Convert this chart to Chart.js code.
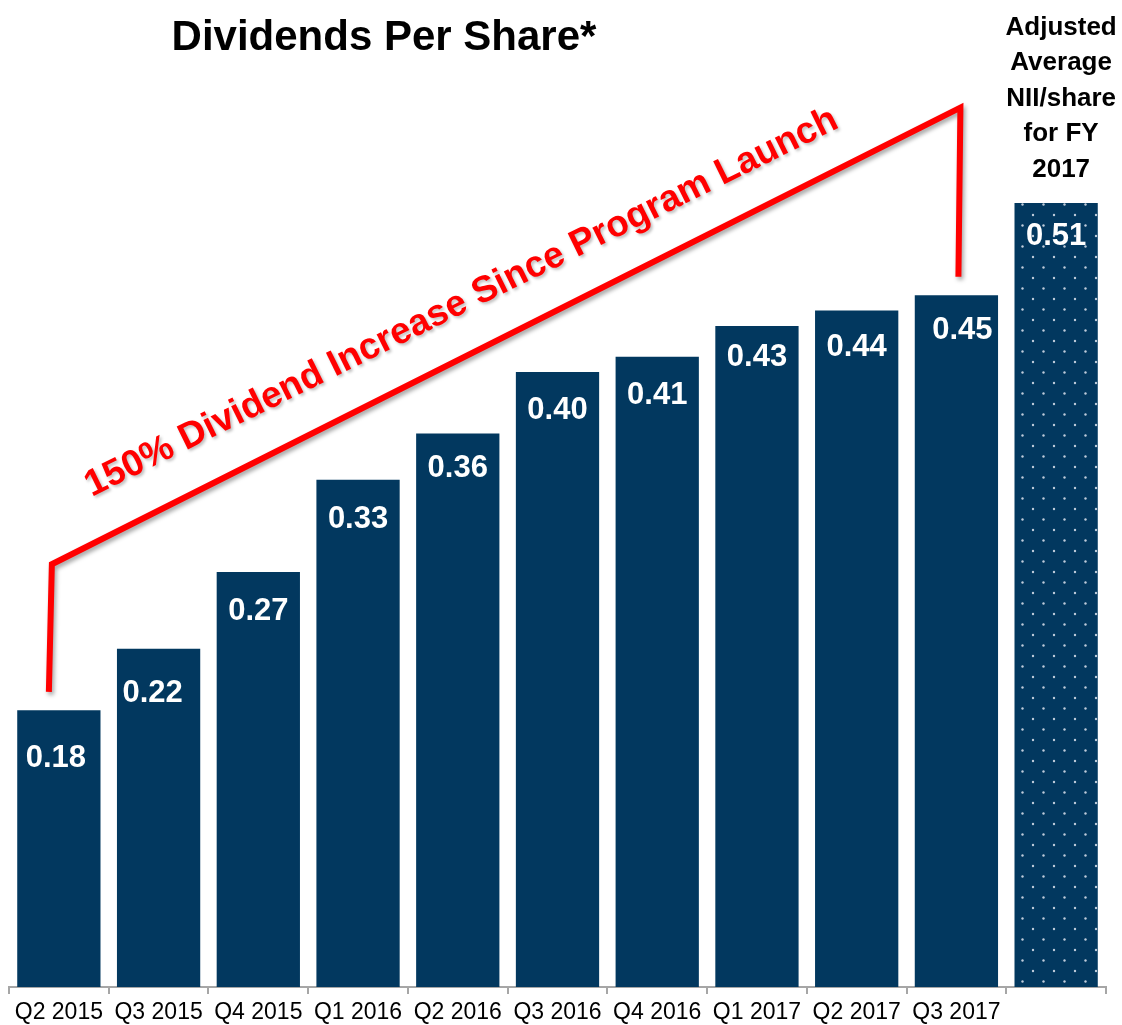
<!DOCTYPE html>
<html>
<head>
<meta charset="utf-8">
<script src="https://cdn.jsdelivr.net/npm/chart.js@4"></script>
<style>
  html, body { margin: 0; padding: 0; background: #fff; }
  #wrap { width: 1122px; height: 1025px; position: relative; }
</style>
</head>
<body>
<div id="wrap"><canvas id="dpsChart"></canvas></div>
<script>
// data
const quarters = ['Q2 2015', 'Q3 2015', 'Q4 2015', 'Q1 2016', 'Q2 2016', 'Q3 2016', 'Q4 2016', 'Q1 2017', 'Q2 2017', 'Q3 2017', ''];
const dividends = [0.18, 0.22, 0.27, 0.33, 0.36, 0.40, 0.41, 0.43, 0.44, 0.45, 0.51];
const chartTitle = 'Dividends Per Share*';
const calloutText = '150% Dividend Increase Since Program Launch';
const lastBarCaption = ['Adjusted', 'Average', 'NII/share', 'for FY', '2017'];

const FONT = '"Liberation Sans", Arial, sans-serif';
const NAVY = '#02385f';

// dotted fill for the last bar
function makeDots() {
    const c = document.createElement('canvas');
    c.width = 21;
    c.height = 21;
    const g = c.getContext('2d');
    g.fillStyle = NAVY;
    g.fillRect(0, 0, 21, 21);
    g.fillStyle = 'rgba(225, 230, 240, 0.85)';
    [[4, 5], [14.5, 15.5]].forEach(p => {
        g.beginPath();
        g.arc(p[0], p[1], 1.2, 0, Math.PI * 2);
        g.fill();
    });
    return g.createPattern(c, 'repeat');
}

const barColors = dividends.map((v, i) => i === dividends.length - 1 ? makeDots() : NAVY);

// labels, title, bracket and callout
const annotate = {
    id: 'annotate',
    afterDatasetsDraw(chart, args, opts) {
        const ctx = chart.ctx;
        const x = chart.scales.x;
        const y = chart.scales.y;
        const bars = chart.getDatasetMeta(0).data;

        // value labels inside the bars
        ctx.save();
        ctx.fillStyle = '#fff';
        ctx.font = 'bold 31px ' + FONT;
        ctx.textAlign = 'center';
        ctx.textBaseline = 'middle';
        bars.forEach((bar, i) => {
            ctx.fillText(dividends[i].toFixed(2), bar.x + opts.dx[i], bar.y + opts.dy[i]);
        });
        ctx.restore();

        // caption above the last bar
        const last = bars[bars.length - 1];
        ctx.save();
        ctx.fillStyle = '#000';
        ctx.font = 'bold 26px ' + FONT;
        ctx.textAlign = 'center';
        ctx.textBaseline = 'alphabetic';
        lastBarCaption.forEach((line, k) => {
            const base = last.y - 26 - (lastBarCaption.length - 1 - k) * 35.5;
            ctx.fillText(line, last.x + 5, base);
        });
        ctx.restore();

        // title
        ctx.save();
        ctx.fillStyle = '#000';
        ctx.font = 'bold 42px ' + FONT;
        ctx.textAlign = 'center';
        ctx.textBaseline = 'alphabetic';
        ctx.fillText(chartTitle, 384, 50);
        ctx.restore();

        // red bracket from first to last quarter
        const gap = 0.012;
        const xl = x.getPixelForValue(0) - 7;
        const xr = x.getPixelForValue(9) + 3;
        ctx.save();
        ctx.strokeStyle = '#ff0000';
        ctx.lineWidth = 6;
        ctx.lineJoin = 'miter';
        ctx.shadowColor = 'rgba(0, 0, 0, 0.35)';
        ctx.shadowBlur = 4;
        ctx.shadowOffsetX = 2;
        ctx.shadowOffsetY = 3;
        ctx.beginPath();
        ctx.moveTo(xl - 3, y.getPixelForValue(dividends[0] + gap));
        ctx.lineTo(xl, y.getPixelForValue(0.275));
        ctx.lineTo(xr + 1, y.getPixelForValue(0.572));
        ctx.lineTo(xr - 1, y.getPixelForValue(dividends[9] + gap));
        ctx.stroke();
        ctx.restore();

        // rotated callout
        ctx.save();
        ctx.translate(466, 312);
        ctx.rotate(-26.3 * Math.PI / 180);
        ctx.fillStyle = '#ff0000';
        ctx.font = 'bold 37px ' + FONT;
        ctx.textAlign = 'center';
        ctx.textBaseline = 'alphabetic';
        ctx.shadowColor = 'rgba(0, 0, 0, 0.25)';
        ctx.shadowBlur = 3;
        ctx.shadowOffsetX = 2;
        ctx.shadowOffsetY = 2;
        ctx.fillText(calloutText, 0, 0);
        ctx.restore();
    }
};

const ctx = document.getElementById('dpsChart').getContext('2d');
new Chart(ctx, {
    type: 'bar',
    data: {
        labels: quarters,
        datasets: [{
            data: dividends,
            backgroundColor: barColors,
            borderWidth: 0,
            barPercentage: 0.835,
            categoryPercentage: 1
        }]
    },
    options: {
        responsive: true,
        maintainAspectRatio: false,
        animation: false,
        layout: { padding: { left: 9, right: 16, top: 0, bottom: 0 } },
        plugins: {
            legend: { display: false },
            tooltip: { enabled: false },
            title: { display: false },
            annotate: {
                dx: [-3, -6, 0, 0, 0, 0, 0, 0, 0, 6, 0],
                dy: [48, 45, 40, 40, 35, 38, 39, 32, 37, 35, 34]
            }
        },
        scales: {
            x: {
                afterFit: s => { s.height = 38; },
                grid: {
                    offset: true,
                    drawOnChartArea: false,
                    drawTicks: true,
                    tickLength: 7,
                    color: '#a6a6a6',
                    lineWidth: 2
                },
                border: { display: true, color: '#a6a6a6', width: 2 },
                ticks: {
                    color: '#000',
                    font: { family: FONT, size: 23 },
                    padding: 5,
                    maxRotation: 0,
                    autoSkip: false
                }
            },
            y: {
                display: false,
                min: 0,
                max: 0.642
            }
        }
    },
    plugins: [annotate]
});
</script>
</body>
</html>
